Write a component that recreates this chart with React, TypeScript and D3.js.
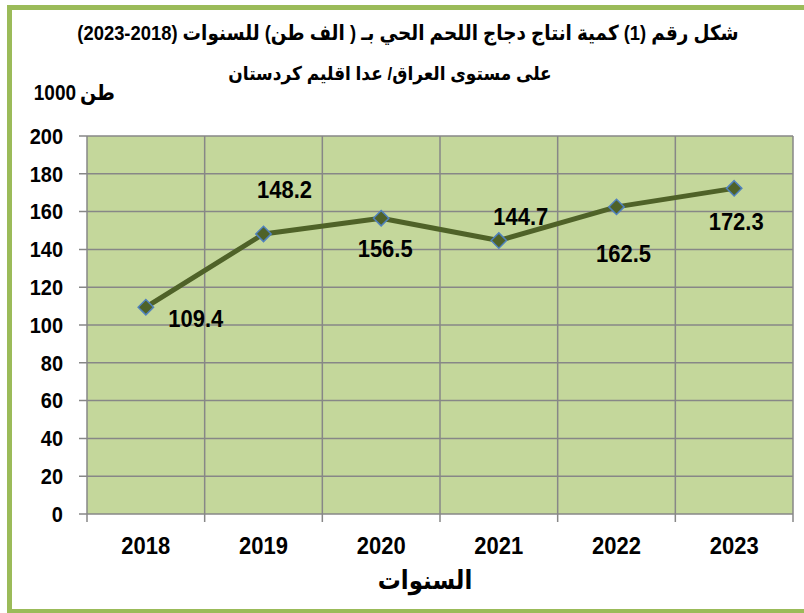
import React from "react";
import * as d3 from "d3";

const years = ["2018", "2019", "2020", "2021", "2022", "2023"];
const production = [109.4, 148.2, 156.5, 144.7, 162.5, 172.3];
const yTicks = [0, 20, 40, 60, 80, 100, 120, 140, 160, 180, 200];
const titleLine1 = "شكل رقم (1) كمية انتاج دجاج اللحم الحي بـ ( الف طن) للسنوات (2018-2023)";
const titleLine2 = "على مستوى العراق/ عدا اقليم كردستان";
const unitNumber = "1000";
const unitWord = "طن";
const xAxisTitle = "السنوات";
// label offsets (dx, dy) relative to each point — styling only
const labelOffsets: [number, number][] = [
  [50, 11],
  [21, -45],
  [4, 30],
  [22, -24],
  [7, 46],
  [2, 33],
];

const W = 804;
const H = 613;
const plot = { left: 87, right: 793, top: 136, bottom: 514 };
const font = "'Liberation Sans', Arial, 'DejaVu Sans', sans-serif";

function T(props: {
  x: number;
  y: number;
  size: number;
  anchor?: string;
  rtl?: boolean;
  sy?: number;
  children: React.ReactNode;
}) {
  const { x, y, size, anchor = "middle", rtl, sy = 1.12, children } = props;
  return (
    <text
      transform={`translate(${x},${y}) scale(1,${sy})`}
      dy="0.35em"
      textAnchor={anchor}
      fontSize={size}
      fontWeight="bold"
      direction={rtl ? "rtl" : undefined}
      fill="#000"
    >
      {children}
    </text>
  );
}

export default function App() {
  const x = d3
    .scaleBand<string>()
    .domain(years)
    .range([plot.left, plot.right])
    .padding(0);
  const y = d3.scaleLinear().domain([0, 200]).range([plot.bottom, plot.top]);
  const cx = (d: string) => (x(d) as number) + x.bandwidth() / 2;

  const line = d3
    .line<number>()
    .x((_, i) => cx(years[i]))
    .y((v) => y(v));

  const boundaries = years.map((d) => x(d) as number).concat([plot.right]);
  const diamond = d3.symbol().type(d3.symbolDiamond2).size(150)();

  return (
    <svg
      width={W}
      height={H}
      style={{ position: "absolute", left: 0, top: 0, display: "block" }}
      fontFamily={font}
    >
      <rect x={0} y={0} width={W} height={H} fill="#ffffff" />
      <rect
        x={9.5}
        y={7.5}
        width={830}
        height={604}
        fill="none"
        stroke="#9bbb59"
        strokeWidth={5}
      />
      <T x={408} y={33} size={18.4} rtl>
        {titleLine1}
      </T>
      <T x={390} y={73} size={17} rtl>
        {titleLine2}
      </T>
      <T x={76} y={93} size={19} anchor="end">
        {unitNumber}
      </T>
      <T x={80} y={93} size={19} anchor="start" rtl={false}>
        {unitWord}
      </T>

      <rect
        x={plot.left}
        y={plot.top}
        width={plot.right - plot.left}
        height={plot.bottom - plot.top}
        fill="#c4d79b"
      />
      {yTicks.map((t) => (
        <g key={"y" + t}>
          <line
            x1={plot.left - 8}
            x2={plot.right}
            y1={y(t)}
            y2={y(t)}
            stroke="#878787"
            strokeWidth={1.5}
          />
          <T x={63} y={y(t)} size={20} anchor="end">
            {t}
          </T>
        </g>
      ))}
      {boundaries.map((bx, i) => (
        <line
          key={"x" + i}
          x1={bx}
          x2={bx}
          y1={plot.top}
          y2={plot.bottom + 8}
          stroke="#878787"
          strokeWidth={1.5}
        />
      ))}
      {years.map((d) => (
        <T key={"l" + d} x={cx(d)} y={545} size={22}>
          {d}
        </T>
      ))}
      <T x={425} y={580} size={23} rtl>
        {xAxisTitle}
      </T>

      <path
        d={line(production) || ""}
        fill="none"
        stroke="#4f6228"
        strokeWidth={5}
        strokeLinejoin="round"
      />
      {production.map((v, i) => (
        <path
          key={"m" + i}
          d={diamond || ""}
          transform={`translate(${cx(years[i])},${y(v)})`}
          fill="#4f6228"
          stroke="#4f81bd"
          strokeWidth={1.5}
        />
      ))}
      {production.map((v, i) => (
        <T
          key={"v" + i}
          x={cx(years[i]) + labelOffsets[i][0]}
          y={y(v) + labelOffsets[i][1]}
          size={22}
        >
          {v.toFixed(1)}
        </T>
      ))}
    </svg>
  );
}
